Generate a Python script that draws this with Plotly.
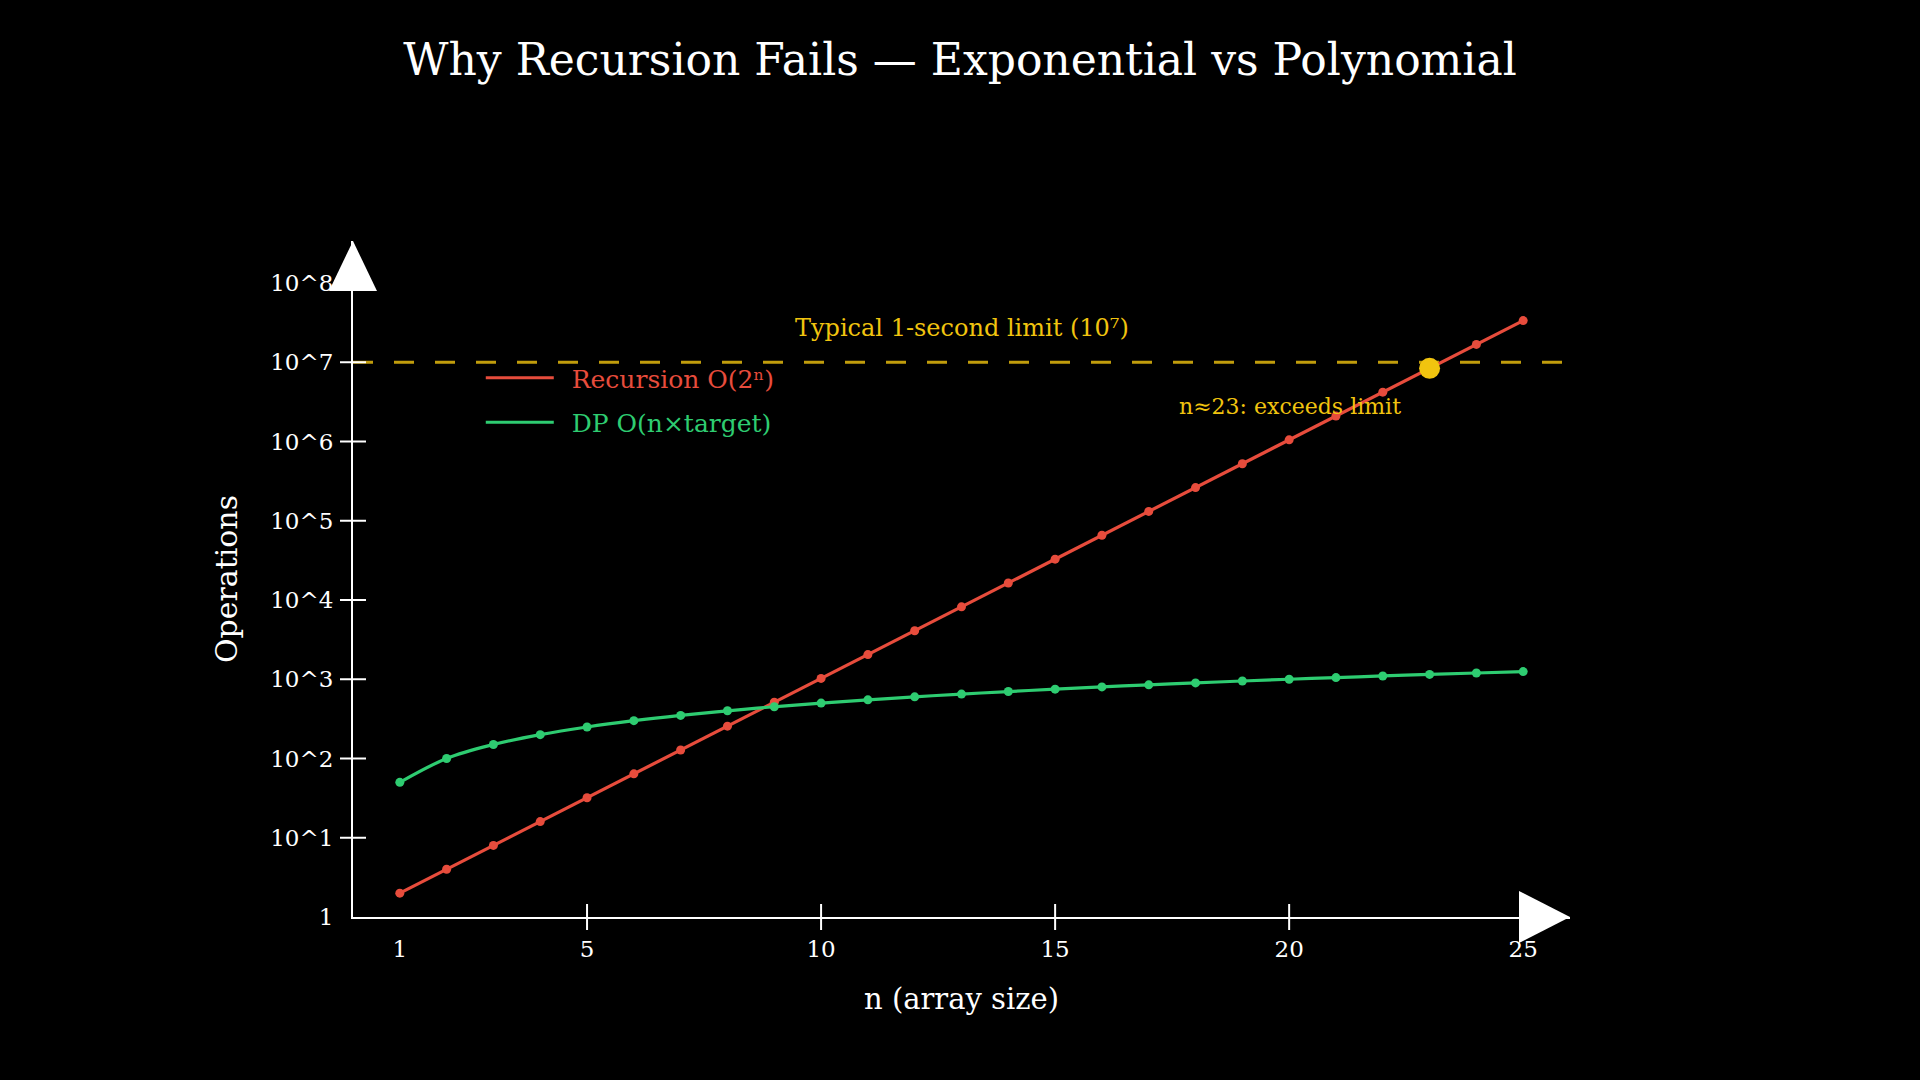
import math
import plotly.graph_objects as go

# ---- data ----
n_values = list(range(1, 26))
recursion_ops = [2, 4, 8, 16, 32, 64, 128, 256, 512, 1024, 2048, 4096, 8192,
                 16384, 32768, 65536, 131072, 262144, 524288, 1048576,
                 2097152, 4194304, 8388608, 16777216, 33554432]
dp_ops = [50, 100, 150, 200, 250, 300, 350, 400, 450, 500, 550, 600, 650,
          700, 750, 800, 850, 900, 950, 1000, 1050, 1100, 1150, 1200, 1250]
limit_ops = 10_000_000
exceed_n = 23
x_tick_vals = [1, 5, 10, 15, 20, 25]
x_tick_text = ["1", "5", "10", "15", "20", "25"]
y_tick_vals = [1, 10, 100, 1000, 10000, 100000, 1000000, 10000000, 100000000]
y_tick_text = ["1", "10^1", "10^2", "10^3", "10^4", "10^5", "10^6", "10^7", "10^8"]

RED = "#e74c3c"
GREEN = "#2ecc71"
YELLOW = "#f1c40f"
FONT = "DejaVu Serif, serif"
PAD = "\u00a0\u2009"

fig = go.Figure()

fig.add_trace(go.Scatter(x=n_values, y=recursion_ops, mode="lines",
                         name=f"<span style='color:{RED}'>{PAD}Recursion O(2ⁿ)</span>",
                         line=dict(color=RED, width=3.2), legendgroup="rec"))
fig.add_trace(go.Scatter(x=n_values, y=recursion_ops, mode="markers",
                         marker=dict(color=RED, size=9), showlegend=False,
                         legendgroup="rec"))
fig.add_trace(go.Scatter(x=n_values, y=dp_ops, mode="lines",
                         name=f"<span style='color:{GREEN}'>{PAD}DP O(n×target)</span>",
                         line=dict(color=GREEN, width=3.2, shape="spline"),
                         legendgroup="dp"))
fig.add_trace(go.Scatter(x=n_values, y=dp_ops, mode="markers",
                         marker=dict(color=GREEN, size=9), showlegend=False,
                         legendgroup="dp"))

exceed_val = recursion_ops[n_values.index(exceed_n)]
fig.add_trace(go.Scatter(x=[exceed_n], y=[exceed_val], mode="markers",
                         marker=dict(color=YELLOW, size=21), showlegend=False))

# limit line
fig.add_hline(y=limit_ops, line=dict(color="rgba(241,196,15,0.8)", width=3,
                                      dash="20px,21px"), layer="below")

# tick marks crossing the axes
for v in x_tick_vals[1:]:
    fig.add_shape(type="line", xref="x", yref="paper", ysizemode="pixel",
                  yanchor=0, x0=v, x1=v, y0=-13, y1=13,
                  line=dict(color="white", width=2))
for v in y_tick_vals[1:]:
    fig.add_shape(type="line", yref="y", xref="paper", xsizemode="pixel",
                  xanchor=0, y0=v, y1=v, x0=-13, x1=13,
                  line=dict(color="white", width=2))

# arrow heads
fig.add_shape(type="path", xref="paper", yref="paper", xsizemode="pixel",
              ysizemode="pixel", xanchor=1, yanchor=0,
              path="M -51,-26 L 0,0 L -51,26 Z", fillcolor="white",
              line=dict(width=0))
fig.add_shape(type="path", xref="paper", yref="paper", xsizemode="pixel",
              ysizemode="pixel", xanchor=0, yanchor=1,
              path="M -24,-50 L 0,0 L 24,-50 Z", fillcolor="white",
              line=dict(width=0))

fig.add_annotation(text="Typical 1-second limit (10⁷)", xref="paper", x=0.5,
                   yref="y", y=math.log10(limit_ops), yshift=34,
                   showarrow=False, font=dict(color=YELLOW, size=24, family=FONT))
fig.add_annotation(text="n≈23: exceeds limit", xref="x", x=exceed_n,
                   yref="y", y=math.log10(exceed_val), xshift=-140, yshift=-38,
                   showarrow=False, font=dict(color=YELLOW, size=22, family=FONT))

fig.update_layout(
    width=1920, height=1080,
    paper_bgcolor="black", plot_bgcolor="black",
    margin=dict(l=353, r=350, t=241, b=163),
    font=dict(family=FONT, color="white", size=23),
    title=dict(text="Why Recursion Fails — Exponential vs Polynomial",
               x=0.5, xanchor="center", y=1 - 60 / 1080, yanchor="middle",
               font=dict(size=44, color="white", family=FONT)),
    showlegend=True,
    legend=dict(x=0.105, y=1 - (400 - 241) / 676, xanchor="left", yanchor="middle",
                bgcolor="rgba(0,0,0,0)", font=dict(size=25, family=FONT),
                itemwidth=68, traceorder="grouped", tracegroupgap=9),
    xaxis=dict(range=[0, 26], showgrid=False, zeroline=False, showline=True,
               linecolor="white", linewidth=2, tickvals=x_tick_vals,
               ticktext=x_tick_text, ticks="outside", ticklen=10,
               tickcolor="rgba(0,0,0,0)",
               title=dict(text="n (array size)", standoff=28,
                          font=dict(size=29))),
    yaxis=dict(type="log", range=[0, 8.53], showgrid=False, zeroline=False,
               showline=True, linecolor="white", linewidth=2,
               tickvals=y_tick_vals, ticktext=y_tick_text, ticks="outside",
               ticklen=13, tickcolor="rgba(0,0,0,0)",
               title=dict(text="Operations", standoff=24, font=dict(size=30))),
)

fig.write_html("out.html")
